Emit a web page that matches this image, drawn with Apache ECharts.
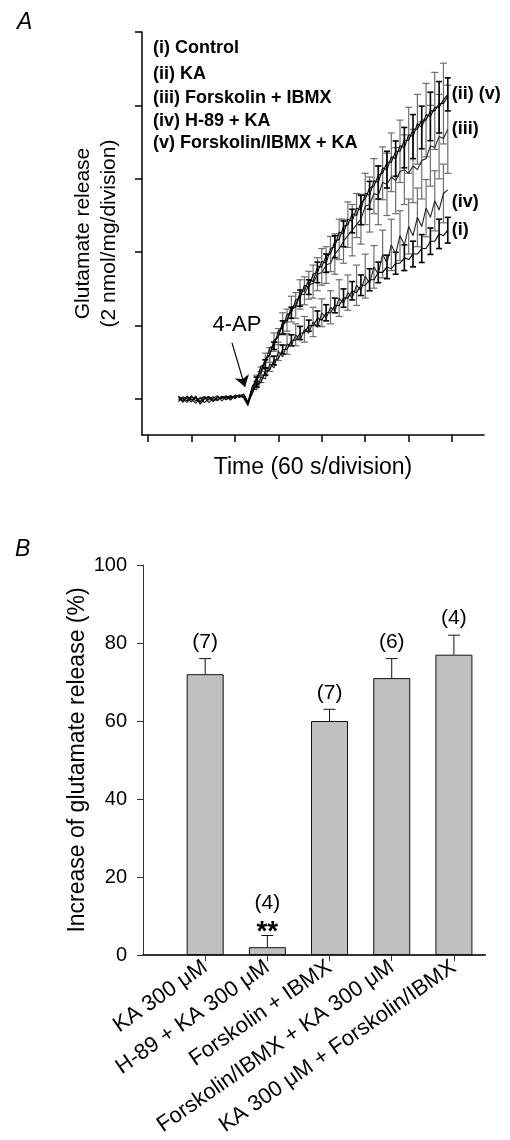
<!DOCTYPE html>
<html><head><meta charset="utf-8">
<script src="https://cdn.jsdelivr.net/npm/echarts@6/dist/echarts.min.js"></script>
<style>html,body{margin:0;padding:0;background:#fff}#c{width:510px;height:1140px}</style>
</head><body><div id="c"></div>
<script>
const FONT = '"Liberation Sans", Arial, Helvetica, sans-serif';

// ---------- Panel A data (time in s, glutamate in nmol/mg) ----------
const timeSec = [42,48,54,60,66,72,78,84,90,96,102,108,114,120,126,132,138,
  144,150,156,162,168,174,180,186,192,198,204,210,216,222,228,234,240,246,252,258,
  264,270,276,282,288,294,300,306,312,318,324,330,336,342,348,354,360,366,372,378,
  384,390,396,402,408,414];
const xTicksA = [0,60,120,180,240,300,360,420];
const yTicksA = [0,2,4,6,8,10];

const ctrl_i = [-0.03,0.06,0.01,-0.08,0.08,-0.14,0.00,0.05,-0.07,0.03,0.06,-0.02,0.07,0.04,0.09,0.12,-0.09,
  0.15,0.4,0.45,0.75,0.8,1.05,1.1,1.35,1.35,1.6,
  1.6,1.8,1.8,2.0,2.0,2.2,2.15,2.35,2.35,2.55,
  2.55,2.75,2.75,2.95,2.9,3.1,3.1,3.25,3.25,3.45,
  3.45,3.6,3.55,3.7,3.7,3.85,3.8,3.95,3.95,4.1,
  4.1,4.3,4.3,4.5,4.45,4.6];
const ka_ii = [0.05,-0.06,0.08,-0.03,0.06,-0.09,0.03,0.07,-0.05,0.06,0.01,0.09,-0.03,0.11,0.04,0.14,-0.08,
  0.35,0.5,0.9,0.95,1.4,1.45,1.85,1.95,2.3,2.35,
  2.7,2.75,3.1,3.05,3.4,3.45,3.75,3.7,4.1,4.15,
  4.55,4.5,4.9,4.85,5.2,5.15,5.6,5.55,5.95,5.9,
  6.3,6.25,6.6,6.55,6.9,6.85,7.2,7.15,7.5,7.4,
  7.75,7.7,7.95,7.95,8.15,8.3];
const fi_iii = [0.07,0.00,-0.09,0.05,0.01,-0.06,0.07,-0.03,0.03,0.09,-0.05,0.06,0.04,0.07,0.1,0.03,-0.18,
  0.2,0.5,0.7,1.05,1.2,1.55,1.7,2.05,2.1,2.45,
  2.5,2.85,2.85,3.1,3.15,3.4,3.45,3.65,3.7,3.95,
  4.1,4.3,4.45,4.6,4.75,4.9,5.25,5.3,5.6,5.55,
  5.9,5.85,6.05,5.95,6.2,6.25,6.15,6.35,6.25,6.5,
  6.55,6.9,6.85,7.15,7.1,7.35];
const h89_iv = [0.09,-0.09,0.04,0.00,-0.12,0.03,0.06,-0.1,0.01,-0.05,0.07,0.04,0.00,0.1,0.06,0.07,-0.12,
  0.3,0.25,0.6,0.55,0.95,0.85,1.3,1.15,1.5,1.45,
  1.75,1.6,1.9,1.8,2.1,1.95,2.35,2.2,2.5,2.4,
  2.75,2.6,2.9,2.75,3.1,2.95,3.35,3.15,3.6,3.4,
  3.95,3.7,4.2,3.95,4.45,4.2,4.7,4.45,4.95,4.7,
  5.2,4.95,5.4,5.15,5.6,5.7];
const fika_v = [-0.07,0.03,-0.05,0.09,-0.06,0.04,-0.1,0.01,0.06,-0.03,0.07,0.03,0.1,0.01,0.12,0.06,-0.14,
  0.25,0.6,0.75,1.1,1.2,1.6,1.7,2.1,2.15,2.5,
  2.55,2.9,2.95,3.25,3.2,3.6,3.6,3.9,3.95,4.3,
  4.35,4.7,4.75,5.05,5.0,5.35,5.45,5.75,5.8,6.1,
  6.15,6.45,6.45,6.75,6.75,7.05,7.05,7.35,7.35,7.6,
  7.6,7.85,7.85,8.05,8.05,8.25];

const errTimesA = [150,162,174,186,198,210,222,234,246,258,270,282,294,306,318,330,342,354,366,378,390,402,414];
const errTimesB = [156,168,180,192,204,216,228,240,252,264,276,288,300,312,324,336,348,360,372,384,396,408];
const sem_ii  = [0.1,0.12,0.1,0.18,0.15,0.22,0.2,0.28,0.25,0.3,0.35,0.32,0.4,0.38,0.45,0.5,0.48,0.55,0.6,0.58,0.66,0.7,0.45];
const sem_iii = [0.15,0.2,0.25,0.3,0.35,0.4,0.38,0.45,0.5,0.55,0.6,0.7,0.68,0.75,0.8,0.85,0.9,0.95,1.0,1.05,1.1,1.15,1.2];
const sem_i   = [0.08,0.1,0.12,0.12,0.15,0.18,0.15,0.2,0.22,0.2,0.25,0.25,0.28,0.3,0.28,0.32,0.3,0.35,0.35,0.38,0.36,0.4,0.35];
const sem_v   = [0.12,0.2,0.22,0.3,0.35,0.38,0.45,0.5,0.48,0.55,0.62,0.6,0.7,0.75,0.72,0.8,0.85,0.9,0.95,1.0,1.05,1.1];
const sem_iv  = [0.15,0.2,0.25,0.28,0.3,0.35,0.4,0.38,0.45,0.5,0.48,0.55,0.6,0.58,0.65,0.7,0.68,0.75,0.8,0.78,0.82,0.8];

const legendA = ['(i) Control','(ii) KA','(iii) Forskolin + IBMX','(iv) H-89 + KA','(v) Forskolin/IBMX + KA'];

// ---------- Panel B data ----------
const catsB = ['KA 300 μM','H-89 + KA 300 μM','Forskolin + IBMX','Forskolin/IBMX + KA 300 μM','KA 300 μM + Forskolin/IBMX'];
const posB = [1,2,3,4,5];
const meanB = [72, 2, 60, 71, 77];
const semB = [4, 3, 3, 5, 5];
const nB = ['(7)','(4)','(7)','(6)','(4)'];
const sigB = ['', '**', '', '', ''];

// ---------- build ----------
const pair = (vals) => timeSec.map((t, i) => [t, vals[i]]);
const errData = (times, vals, sems) => times.map((t, i) => [t, vals[timeSec.indexOf(t)], sems[i]]);

function errRender(color, lw, cap) {
  return function (params, api) {
    const x = api.value(0), c = api.value(1), s = api.value(2);
    const p1 = api.coord([x, c + s]), p2 = api.coord([x, c - s]);
    const st = { stroke: color, lineWidth: lw };
    return { type: 'group', children: [
      { type: 'line', shape: { x1: p1[0], y1: p1[1], x2: p2[0], y2: p2[1] }, style: st },
      { type: 'line', shape: { x1: p1[0] - cap, y1: p1[1], x2: p1[0] + cap, y2: p1[1] }, style: st },
      { type: 'line', shape: { x1: p2[0] - cap, y1: p2[1], x2: p2[0] + cap, y2: p2[1] }, style: st }
    ]};
  };
}
function errSeries(times, vals, sems, color, lw, cap) {
  return { type: 'custom', xAxisIndex: 0, yAxisIndex: 0, silent: true, z: 2,
    data: errData(times, vals, sems), renderItem: errRender(color, lw, cap) };
}
const endLbl = (txt, off) => ({ show: true, formatter: txt, distance: 4, offset: off || [0, 0],
  fontFamily: FONT, fontWeight: 'bold', fontSize: 18, color: '#000' });
function lineSeries(vals, color, lbl) {
  const s = { type: 'line', xAxisIndex: 0, yAxisIndex: 0, data: pair(vals), showSymbol: false,
    silent: true, z: 3, lineStyle: { color: color, width: 1.1 } };
  if (lbl) s.endLabel = lbl;
  return s;
}

const series = [
  errSeries(errTimesA, fi_iii, sem_iii, '#6e6e6e', 1.2, 3.5),
  errSeries(errTimesB, fika_v, sem_v, '#6e6e6e', 1.2, 3.5),
  errSeries(errTimesB, h89_iv, sem_iv, '#6e6e6e', 1.2, 3.5),
  errSeries(errTimesA, ka_ii, sem_ii, '#000', 1.6, 3),
  errSeries(errTimesA, ctrl_i, sem_i, '#000', 1.6, 3),
  lineSeries(fi_iii, '#222', endLbl('(iii)')),
  lineSeries(h89_iv, '#222', endLbl('(iv)', [0, 12])),
  lineSeries(fika_v, '#000', null),
  lineSeries(ka_ii, '#000', endLbl('(ii) (v)')),
  Object.assign(lineSeries(ctrl_i, '#000', endLbl('(i)')), {
    markLine: { silent: true, symbol: ['none', 'arrow'], symbolSize: 11, label: { show: false },
      lineStyle: { color: '#000', width: 1.2, type: 'solid' },
      data: [[{ coord: [116, 1.53] }, { coord: [134, 0.33] }]] }
  }),
  // Panel B
  { type: 'bar', xAxisIndex: 1, yAxisIndex: 1, barWidth: 37, silent: true,
    data: posB.map((p, i) => [p, meanB[i]]),
    itemStyle: { color: '#c0c0c0', borderColor: '#111', borderWidth: 1 } },
  { type: 'custom', xAxisIndex: 1, yAxisIndex: 1, silent: true, z: 5,
    data: posB.map((p, i) => [p, meanB[i], semB[i], i]),
    renderItem: function (params, api) {
      const x = api.value(0), m = api.value(1), s = api.value(2), i = api.value(3);
      const b = api.coord([x, m]), t = api.coord([x, m + s]);
      const st = { stroke: '#111', lineWidth: 1 };
      const ch = [
        { type: 'line', shape: { x1: b[0], y1: b[1], x2: t[0], y2: t[1] }, style: st },
        { type: 'line', shape: { x1: t[0] - 6, y1: t[1], x2: t[0] + 6, y2: t[1] }, style: st }
      ];
      let ty = t[1] - 6;
      if (sigB[i]) {
        ch.push({ type: 'text', style: { text: sigB[i], x: t[0], y: t[1] - 3, align: 'center',
          verticalAlign: 'middle', font: 'bold 28px ' + FONT, fill: '#000' } });
        ty = t[1] - 22;
      }
      ch.push({ type: 'text', style: { text: nB[i], x: t[0], y: ty, align: 'center',
        verticalAlign: 'bottom', font: '21px ' + FONT, fill: '#000' } });
      return { type: 'group', children: ch };
    } }
];

const chart = echarts.init(document.getElementById('c'), null, { renderer: 'canvas' });
chart.setOption({
  animation: false,
  backgroundColor: '#fff',
  textStyle: { fontFamily: FONT },
  grid: [
    { left: 142, right: 26, top: 32, bottom: 705 },
    { left: 143, right: 25, top: 565, bottom: 185 }
  ],
  xAxis: [
    { gridIndex: 0, type: 'value', min: -8.3, max: 464,
      axisLine: { onZero: false, lineStyle: { color: '#000', width: 1.5 } },
      axisTick: { show: true, customValues: xTicksA, length: 7, lineStyle: { color: '#000', width: 1.5 } },
      axisLabel: { show: false }, splitLine: { show: false },
      name: 'Time (60 s/division)', nameLocation: 'middle', nameGap: 21,
      nameTextStyle: { fontFamily: FONT, fontSize: 23, color: '#000' } },
    { gridIndex: 1, type: 'value', min: 0, max: 5.5,
      axisLine: { onZero: false, lineStyle: { color: '#333', width: 2 } },
      axisTick: { show: true, customValues: posB, length: 6, lineStyle: { color: '#333', width: 1 } },
      axisLabel: { customValues: posB, formatter: (v) => catsB[Math.round(v) - 1], rotate: 35,
        fontFamily: FONT, fontSize: 22, color: '#000', margin: 10 },
      splitLine: { show: false } }
  ],
  yAxis: [
    { gridIndex: 0, type: 'value', min: -0.98, max: 10,
      axisLine: { show: true, onZero: false, lineStyle: { color: '#000', width: 1.5 } },
      axisTick: { show: true, customValues: yTicksA, length: 7, lineStyle: { color: '#000', width: 1.5 } },
      axisLabel: { show: false }, splitLine: { show: false },
      name: 'Glutamate release\n(2 nmol/mg/division)', nameLocation: 'middle', nameGap: 20,
      nameTextStyle: { fontFamily: FONT, fontSize: 21, lineHeight: 26, color: '#000' } },
    { gridIndex: 1, type: 'value', min: 0, max: 100, interval: 20,
      axisLine: { show: true, onZero: false, lineStyle: { color: '#333', width: 1 } },
      axisTick: { show: true, length: 6, lineStyle: { color: '#333' } },
      axisLabel: { fontFamily: FONT, fontSize: 20, color: '#000', margin: 16 },
      splitLine: { show: false },
      name: 'Increase of glutamate release (%)', nameLocation: 'middle', nameGap: 54,
      nameMoveOverlap: false,
      nameTextStyle: { fontFamily: FONT, fontSize: 23, color: '#000' } }
  ],
  graphic: [
    { type: 'text', left: 17, top: 11, style: { text: 'A', font: 'italic 23px ' + FONT, fill: '#000' } },
    { type: 'text', left: 15, top: 538, style: { text: 'B', font: 'italic 23px ' + FONT, fill: '#000' } },
    { type: 'text', x: 237, y: 325, style: { text: '4-AP', font: '22px ' + FONT, fill: '#000', align: 'center', verticalAlign: 'middle' } },
    ...legendA.map((t, i) => ({ type: 'text', x: 153, y: [48, 74, 98, 121, 143][i],
      style: { text: t, font: 'bold 18px ' + FONT, fill: '#000', verticalAlign: 'middle' } }))
  ],
  series: series
});
</script></body></html>
